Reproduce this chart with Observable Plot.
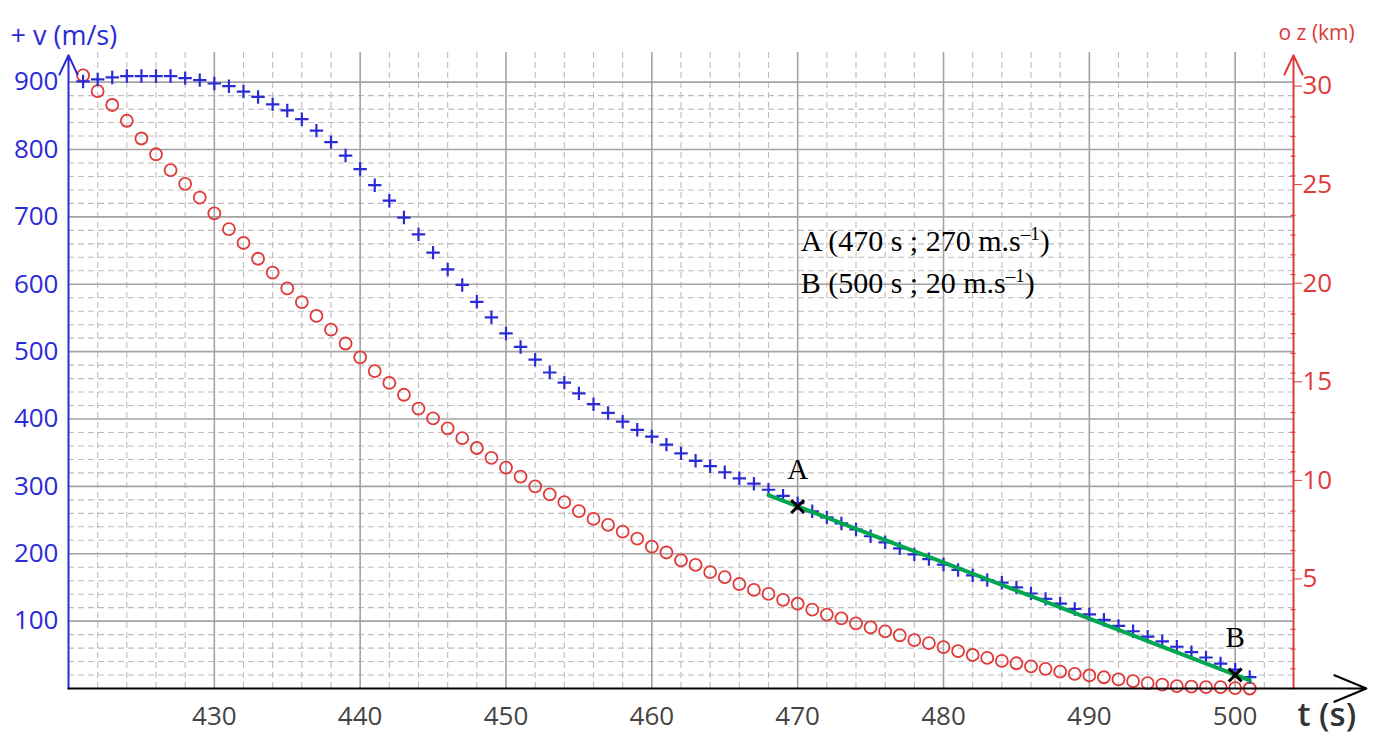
<!DOCTYPE html>
<html><head><meta charset="utf-8">
<script src="https://cdn.jsdelivr.net/npm/d3@7"></script>
<script src="https://cdn.jsdelivr.net/npm/@observablehq/plot@0.6"></script>
<style>html,body{margin:0;padding:0;background:#fff;} svg{display:block}</style>
</head><body><div id="chart"></div>
<script>
// ---- data ----
const time = [421,422,423,424,425,426,427,428,429,430,431,432,433,434,435,436,437,438,439,440,
  441,442,443,444,445,446,447,448,449,450,451,452,453,454,455,456,457,458,459,460,
  461,462,463,464,465,466,467,468,469,470,471,472,473,474,475,476,477,478,479,480,
  481,482,483,484,485,486,487,488,489,490,491,492,493,494,495,496,497,498,499,500,501];
const speed = [901,904,907,909,909,909,909,906,903,898,894,886,878,867,858,845,828,811,791,771,
  747,724,699,674,647,622,599,574,551,527,507,488,469,454,438,422,409,396,384,374,
  362,349,338,330,321,312,304,295,286,275,263,254,245,236,226,217,208,199,192,184,
  176,168,161,157,150,141,133,126,118,110,102,93,85,77,70,62,54,46,37,28,17];
const altitude = [31.1,30.3,29.6,28.8,27.9,27.1,26.3,25.6,24.9,24.1,
  23.3,22.6,21.8,21.1,20.3,19.6,18.9,18.2,17.5,16.8,
  16.1,15.5,14.9,14.2,13.7,13.2,12.7,12.2,11.7,11.2,
  10.75,10.25,9.85,9.45,9.0,8.6,8.3,7.96,7.6,7.2,
  6.9,6.5,6.27,5.9,5.65,5.3,5.0,4.8,4.5,4.3,
  4.0,3.75,3.56,3.3,3.1,2.9,2.7,2.45,2.3,2.1,
  1.9,1.7,1.55,1.4,1.28,1.12,1.0,0.86,0.74,0.66,
  0.57,0.46,0.37,0.27,0.2,0.12,0.1,0.07,0.07,0.02,0];
const xTicks = [430,440,450,460,470,480,490,500];
const xMinor = [422,424,426,428,432,434,436,438,442,444,446,448,452,454,456,458,462,464,466,468,472,474,476,478,482,484,486,488,492,494,496,498,502];
const vTicks = [100,200,300,400,500,600,700,800,900];
const vMinor = [20,40,60,80,120,140,160,180,220,240,260,280,320,340,360,380,420,440,460,480,520,540,560,580,620,640,660,680,720,740,760,780,820,840,860,880];
const zTicks = [5,10,15,20,25,30];
const zMinor = [1,2,3,4,6,7,8,9,11,12,13,14,16,17,18,19,21,22,23,24,26,27,28,29];
const pointT = [470,500];
const pointV = [270,20];
const pointName = ["A","B"];
const tangentT = [468,501];
const tangentV = [287,12];
const noteMain = ["A (470 s ; 270 m.s","B (500 s ; 20 m.s"];
const noteSup = "\u20131";
const noteEnd = ")";

// ---- layout / style ----
const X0 = 420, X1 = 504, XARROW = 509, VTOP = 944, VARROW = 940;
const K = 29.26; // km -> m/s equivalent on the shared vertical scale
const BLUE = "#2b2bd6", RED = "#e03a3a", GREEN = "#00a650";
const FONT = "'Open Sans', sans-serif";
const SERIF = "'Liberation Serif', serif";

const pts = time.map((t,i)=>({t, v: speed[i], z: altitude[i]}));
const marks = [
  Plot.ruleX(xMinor, {stroke:"#bdbdbd", strokeWidth:1.1, strokeDasharray:"6,4"}),
  Plot.ruleY(vMinor, {stroke:"#bdbdbd", strokeWidth:1.1, strokeDasharray:"6,4"}),
  Plot.ruleX(xTicks, {stroke:"#a3a3a3", strokeWidth:1.6}),
  Plot.ruleY(vTicks, {stroke:"#a3a3a3", strokeWidth:1.6}),
  Plot.axisX({ticks:xTicks, tickSize:0, tickPadding:18, fontSize:26, color:"#444", label:null, fontFamily:FONT}),
  Plot.axisY({anchor:"left", ticks:vTicks, tickSize:0, tickPadding:10, fontSize:26, color:BLUE, label:null, fontFamily:FONT}),
  Plot.axisY({anchor:"right", ticks:zTicks.map(z=>z*K), tickFormat:d=>String(Math.round(d/K)), tickSize:8, tickPadding:1, dy:-11, fontSize:26, color:RED, label:null, fontFamily:FONT}),
  Plot.ruleY(zMinor, {y:d=>d*K, x1:X1-0.17, x2:X1+0.17, stroke:RED, strokeWidth:1.2}),
  Plot.dot(pts, {x:"t", y:d=>d.z*K, r:6, stroke:RED, strokeWidth:1.8, fill:"none"}),
  Plot.dot(pts, {x:"t", y:"v", symbol:"plus", r:4.4, stroke:BLUE, strokeWidth:2.2}),
  Plot.line(tangentT.map((t,i)=>({t, v:tangentV[i]})), {x:"t", y:"v", stroke:GREEN, strokeWidth:4}),
  Plot.dot(pointT.map((t,i)=>({t, v:pointV[i]})), {x:"t", y:"v", symbol:"times", r:5.9, stroke:"#000", strokeWidth:3}),
  Plot.text(pointT.map((t,i)=>({t, v:pointV[i], s:pointName[i]})), {x:"t", y:"v", text:"s", dy:-37, fontSize:29, fontFamily:SERIF, fill:"#000"}),
  Plot.text([noteMain[0]], {x:()=>pointT[0], frameAnchor:"top", text:d=>d, dx:3, dy:177, textAnchor:"start", fontSize:30, fontFamily:SERIF, fill:"#000", className:"note"}),
  Plot.text([noteMain[1]], {x:()=>pointT[0], frameAnchor:"top", text:d=>d, dx:3, dy:219, textAnchor:"start", fontSize:30, fontFamily:SERIF, fill:"#000", className:"note"}),
  Plot.arrow([0], {x1:X0, x2:X0, y1:0, y2:VARROW, stroke:BLUE, strokeWidth:2, headLength:16, headAngle:50}),
  Plot.arrow([0], {x1:X1, x2:X1, y1:0, y2:VARROW, stroke:RED, strokeWidth:2, headLength:16, headAngle:50}),
  Plot.arrow([0], {x1:X0, x2:XARROW, y1:0, y2:0, stroke:"#000", strokeWidth:2, headLength:26, headAngle:45}),
  Plot.text(["+ v (m/s)"], {frameAnchor:"top-left", text:d=>d, dx:-58, dy:-27, textAnchor:"start", fontSize:27, fill:BLUE, fontFamily:FONT}),
  Plot.text(["o z (km)"], {frameAnchor:"top-right", text:d=>d, dx:-15, dy:-27, textAnchor:"start", fontSize:21, fill:RED, fontFamily:FONT}),
  Plot.text(["t (s)"], {frameAnchor:"bottom-right", text:d=>d, dx:4, dy:37, textAnchor:"start", fontSize:33, fontWeight:600, fill:"#333", fontFamily:FONT})
];
const svg = Plot.plot({
  width:1381, height:746,
  marginLeft:68, marginRight:88, marginTop:52, marginBottom:58,
  x:{domain:[X0,X1]},
  y:{domain:[0,VTOP]},
  style:{fontFamily:FONT, background:"#fff", overflow:"visible"},
  marks
});
// superscript "–1" on the annotation lines
d3.select(svg).selectAll("g.note text").each(function(){
  const el = d3.select(this);
  const main = this.textContent;
  el.text(null);
  el.append("tspan").text(main);
  el.append("tspan").attr("dy","-11").attr("font-size","19").text(noteSup);
  el.append("tspan").attr("dy","11").text(noteEnd);
});
document.getElementById("chart").appendChild(svg);
</script></body></html>
